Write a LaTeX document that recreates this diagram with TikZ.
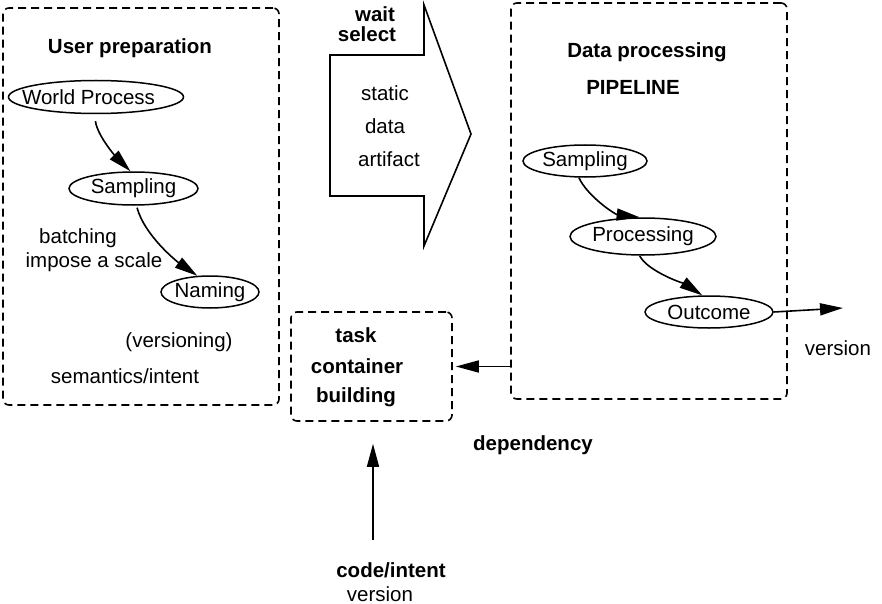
\documentclass[tikz,border=0pt]{standalone}
\usepackage{fontspec}
\setmainfont{Liberation Sans}
\usetikzlibrary{arrows.meta,shapes.geometric}
\newcommand{\ztxt}[1]{\makebox[0pt]{#1}}
\begin{document}
\begin{tikzpicture}[x=1pt,y=-1pt,
  every node/.style={font=\fontsize{20.5}{24}\selectfont, inner sep=0pt},
  bold/.style={font=\fontsize{20.5}{24}\selectfont\bfseries},
  dbox/.style={draw, line width=1.6pt, dash pattern=on 8pt off 5pt, rounded corners=6pt},
  ell/.style={draw, ellipse, line width=1.5pt},
  arr/.style={line width=1.6pt, -{Triangle[length=23pt,width=12pt]}},
]
\useasboundingbox (0,0) rectangle (882,604);

% left box
\node[dbox, minimum width=276pt, minimum height=397pt] (user) at (141,206.5) {};
\node[bold] (usert) at (130,48) {User preparation};
\node[ell, minimum width=175pt, minimum height=33pt] (wp) at (96,97) {\ztxt{World Process\hspace*{15pt}}};
\node[ell, minimum width=129pt, minimum height=33pt] (samp1) at (133.5,188.5) {\ztxt{Sampling}};
\node[ell, minimum width=98pt, minimum height=32pt] (nam) at (210,292) {\ztxt{Naming}};
\node (batch) at (78,238) {batching};
\node (scale) at (94,262) {impose a scale};
\node (vers) at (179,342) {(versioning)};
\node (sem) at (125,376) {semantics/intent};
\draw[arr, shorten <=7pt] (wp.-95) .. controls +(3,22) and +(-14,-14) .. (samp1.100);
\draw[arr, shorten <=2pt] (samp1.-80) .. controls +(8,30) and +(-20,-14) .. (nam.128);

% big arrow
\node[bold] (wait) at (375,14) {wait};
\node[bold] (sel) at (367,34) {select};
\draw[line width=1.6pt, line join=miter] (330,55) -- (424,55) -- (424,5) -- (471,134) -- (424,246) -- (424,196) -- (330,196) -- cycle;
\node (static) at (385,93) {static};
\node (data) at (385,126) {data};
\node (artif) at (389,159) {artifact};

% right box
\node[dbox, minimum width=276pt, minimum height=396pt] (pipe) at (649,201) {};
\node[bold] (dp) at (647,52) {Data processing};
\node[bold] (pl) at (633,87) {PIPELINE};
\node[ell, minimum width=124pt, minimum height=32pt] (samp2) at (585,161) {\ztxt{Sampling}};
\node[ell, minimum width=146pt, minimum height=37pt] (proc) at (643,236.5) {\ztxt{Processing}};
\node[ell, minimum width=128pt, minimum height=32pt] (out) at (709,312) {\ztxt{Outcome}};
\draw[arr] (samp2.-110) .. controls +(8,18) and +(-25,-3) .. (proc.100);
\draw[arr] (proc.-100) .. controls +(8,16) and +(-15,-10) .. (out.112);
\coordinate (vend) at (843,308);
\draw[arr] (out.east) -- (vend);
\node (vers2) at (838,348) {version};

% task box
\node[dbox, minimum width=161pt, minimum height=109pt] (task) at (371.5,366.5) {};
\node[bold] (tk) at (356,335) {task};
\node[bold] (ct) at (357,366) {container};
\node[bold] (bd) at (356,397) {building};
\draw[arr] (task.east -| pipe.west) -- ([xshift=3pt]task.east);
\node[bold] (dep) at (533,445) {dependency};

% code/intent
\node[bold] (code) at (391,570) {code/intent};
\node (vers3) at (380,594) {version};
\coordinate (cstart) at (373,540);
\draw[arr] (cstart) -- ([yshift=-22pt]task.south -| cstart);
\end{tikzpicture}
\end{document}
